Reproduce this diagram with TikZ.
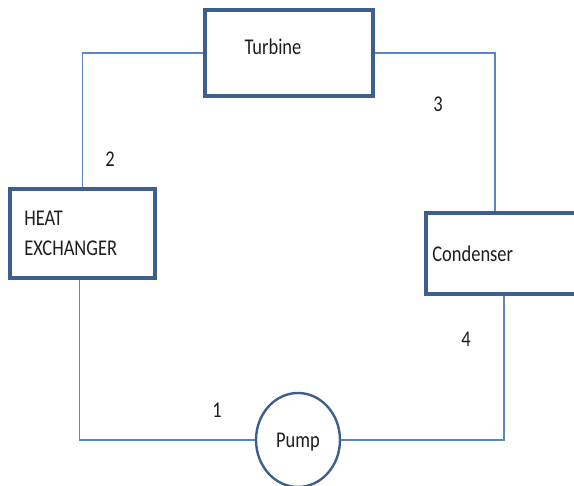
\documentclass[tikz,border=0pt]{standalone}
\usepackage{fontspec}
\setmainfont{Carlito}[FakeStretch=0.82]
\usetikzlibrary{shapes.geometric,positioning,calc}
\definecolor{boxblue}{HTML}{3D5F8C}
\definecolor{pipeblue}{HTML}{5A85BF}
\definecolor{txt}{HTML}{1E1E1E}

\begin{document}
\begin{tikzpicture}[x=1pt, y=-1pt,
    unit/.style={draw=boxblue, line width=3.6pt, fill=white, inner sep=0pt},
    pumpunit/.style={draw=boxblue, line width=2.4pt, ellipse, fill=white, minimum width=84pt, minimum height=94pt, inner sep=0pt},
    pipe/.style={draw=pipeblue, line width=1.2pt},
    lbl/.style={font=\fontsize{22.5}{30}\selectfont, text=txt, inner sep=0pt},
    num/.style={font=\fontsize{22.5}{24}\selectfont, text=txt, inner sep=0pt}
]
\useasboundingbox (0,0) rectangle (574,486);

% components
\node[unit, minimum width=168pt, minimum height=86pt] (turb) at (289,53) {};
\node[unit, minimum width=145pt, minimum height=89pt] (hx) at (82.5,233.5) {};
\node[unit, minimum width=156pt, minimum height=81pt] (cond) at (504,253.5) {};
\node[pumpunit] (pump) at (298,440) {};

\node[lbl] (turbtxt) at (273,47) {Turbine};
\node[lbl, align=left, anchor=west] (hxtxt) at ([xshift=16pt]hx.west) {HEAT\\EXCHANGER};
\node[lbl, anchor=west] (condtxt) at ([xshift=8pt]cond.west) {Condenser};
\node[lbl] (pumptxt) at (298,442) {Pump};

% pipes
\draw[pipe] (turb.west) -| (hx.north);
\draw[pipe] (turb.east) -| ([xshift=-9pt]cond.north);
\draw[pipe] (cond.south) |- (pump.east);
\draw[pipe] (pump.west) -| ([xshift=-3pt]hx.south);

% state points
\node[num] (s1) at (217,410) {1};
\node[num] (s2) at (110,159) {2};
\node[num] (s3) at (438,104) {3};
\node[num] (s4) at (466,339) {4};
\end{tikzpicture}
\end{document}
